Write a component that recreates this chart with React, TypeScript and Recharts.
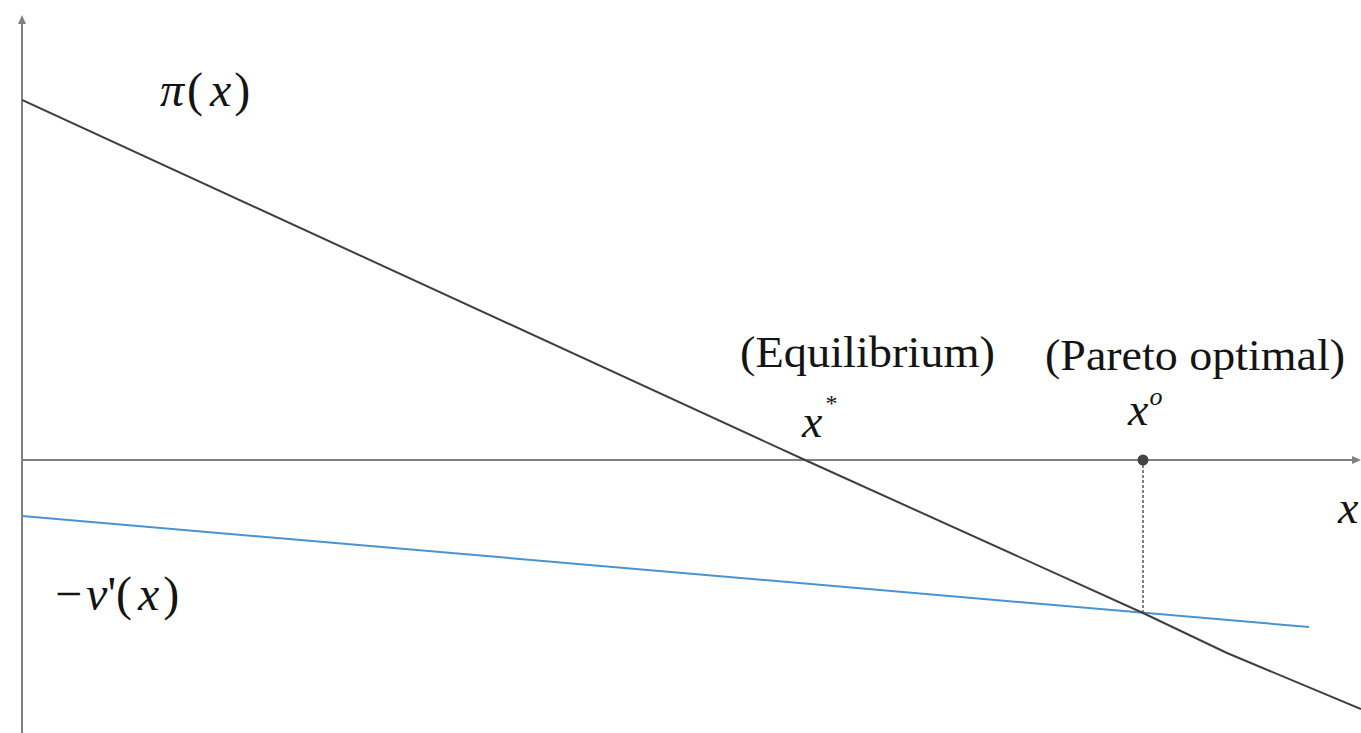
import React from "react";
import {
  ComposedChart,
  Line,
  XAxis,
  YAxis,
  ReferenceLine,
  ReferenceDot,
} from "recharts";

// pi(x): marginal private benefit, falls through x* and flattens past x^o
const piX = [0, 7.83, 11.21, 12.05, 13.39];
const piY = [3.6, 0, -1.53, -1.93, -2.49];

// -v'(x): marginal external cost
const costX = [0, 12.87];
const costY = [-0.56, -1.67];

const X_OPT = 11.21; // pareto optimal
const Y_AT_OPT = -1.53;

const X_DOMAIN: [number, number] = [0, 13.39];
const Y_DOMAIN: [number, number] = [-2.73, 4.6];

const piData = piX.map((x, i) => ({ x, y: piY[i] }));
const costData = costX.map((x, i) => ({ x, y: costY[i] }));

const W = 1361;
const H = 733;
const LEFT = 22;

// same linear mapping the axes use, for placing the annotations
const px = (x: number) => LEFT + ((x - X_DOMAIN[0]) / (X_DOMAIN[1] - X_DOMAIN[0])) * (W - LEFT);
const py = (y: number) => ((Y_DOMAIN[1] - y) / (Y_DOMAIN[1] - Y_DOMAIN[0])) * H;

const SERIF = "Liberation Serif";
const AXIS = "#808080";
const INK = "#3f3f3f";
const BLUE = "#4a93d2";
const TEXT = "#141414";

// axis line with a small arrowhead at its far end
function ArrowLine(props: any) {
  const { x1, y1, x2, y2 } = props;
  const a = Math.atan2(y2 - y1, x2 - x1);
  const L = 9;
  const w = 4;
  const bx = x2 - L * Math.cos(a);
  const by = y2 - L * Math.sin(a);
  const ox = -Math.sin(a) * w;
  const oy = Math.cos(a) * w;
  return (
    <g>
      <line x1={x1} y1={y1} x2={bx} y2={by} stroke={AXIS} strokeWidth={2} />
      <polygon
        points={`${x2},${y2} ${bx + ox},${by + oy} ${bx - ox},${by - oy}`}
        fill={AXIS}
      />
    </g>
  );
}

export default function App() {
  return (
    <div style={{ position: "fixed", left: 0, top: 0, background: "#fff" }}>
      <ComposedChart
        width={W}
        height={H}
        margin={{ top: 0, right: 0, bottom: 0, left: LEFT }}
      >
        <XAxis type="number" dataKey="x" domain={X_DOMAIN} hide allowDataOverflow />
        <YAxis type="number" dataKey="y" domain={Y_DOMAIN} hide allowDataOverflow />

        <ReferenceLine
          segment={[{ x: 0, y: 0 }, { x: X_DOMAIN[1], y: 0 }]}
          shape={ArrowLine}
        />
        <ReferenceLine
          segment={[{ x: 0, y: Y_DOMAIN[0] }, { x: 0, y: 4.45 }]}
          shape={ArrowLine}
        />
        <ReferenceLine
          segment={[{ x: X_OPT, y: 0 }, { x: X_OPT, y: Y_AT_OPT }]}
          stroke="#555"
          strokeWidth={1.5}
          strokeDasharray="3 2"
        />

        <Line
          data={costData}
          dataKey="y"
          type="linear"
          stroke={BLUE}
          strokeWidth={2}
          dot={false}
          isAnimationActive={false}
        />
        <Line
          data={piData}
          dataKey="y"
          type="linear"
          stroke={INK}
          strokeWidth={2}
          dot={false}
          isAnimationActive={false}
        />

        <ReferenceDot x={X_OPT} y={0} r={5.5} fill="#444" stroke="none" />

        {/* curve names */}
        <text x={px(1.38)} y={py(3.54)} fontFamily={SERIF} fontSize={48} fill={TEXT}>
          <tspan fontStyle="italic">π</tspan>
          <tspan dx={3}>(</tspan>
          <tspan fontStyle="italic" dx={7}>x</tspan>
          <tspan dx={3}>)</tspan>
        </text>
        <text x={px(0.33)} y={py(-1.5)} fontFamily={SERIF} fontSize={48} fill={TEXT}>
          <tspan>−</tspan>
          <tspan fontStyle="italic" dx={4}>v</tspan>
          <tspan>'(</tspan>
          <tspan fontStyle="italic" dx={6}>x</tspan>
          <tspan dx={4}>)</tspan>
        </text>

        {/* point captions */}
        <text
          x={px(7.18)}
          y={py(0.93)}
          fontFamily={SERIF}
          fontSize={44}
          fill={TEXT}
          textLength={255}
          lengthAdjust="spacingAndGlyphs"
        >
          (Equilibrium)
        </text>
        <text
          x={px(10.23)}
          y={py(0.9)}
          fontFamily={SERIF}
          fontSize={44}
          fill={TEXT}
          textLength={300}
          lengthAdjust="spacingAndGlyphs"
        >
          (Pareto optimal)
        </text>

        <text x={px(7.8)} y={py(0.23)} fontFamily={SERIF} fontSize={46} fill={TEXT}>
          <tspan fontStyle="italic">x</tspan>
          <tspan fontSize={24} dx={3} dy={-26}>*</tspan>
        </text>
        <text x={px(11.06)} y={py(0.35)} fontFamily={SERIF} fontSize={46} fill={TEXT}>
          <tspan fontStyle="italic">x</tspan>
          <tspan fontSize={26} fontStyle="italic" dx={1} dy={-20}>o</tspan>
        </text>

        {/* horizontal axis name */}
        <text x={px(13.16)} y={py(-0.63)} fontFamily={SERIF} fontSize={46} fill={TEXT} fontStyle="italic">
          x
        </text>
      </ComposedChart>
    </div>
  );
}
